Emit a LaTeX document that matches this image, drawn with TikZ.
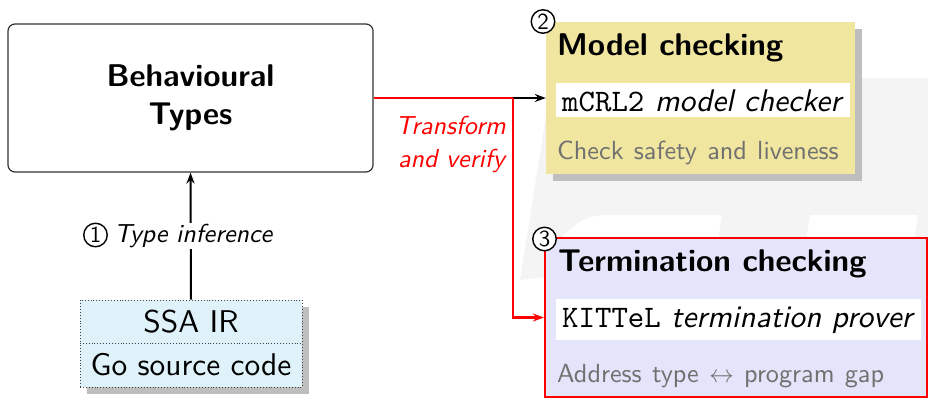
\documentclass[tikz,border=0pt]{standalone}
\usepackage{fontspec}
\setsansfont{lmsans10}[Extension=.otf, UprightFont=*-regular, BoldFont=*-bold,
  ItalicFont=*-oblique, BoldItalicFont=*-boldoblique]
\setmonofont{lmmono10}[Extension=.otf, UprightFont=*-regular, ItalicFont=*-italic]
\usetikzlibrary{arrows.meta,shadows}
\definecolor{mcyellow}{HTML}{F0E6A0}
\definecolor{tclav}{HTML}{E4E4FA}
\definecolor{ssacyan}{HTML}{DFF2FA}
\definecolor{shadowgray}{HTML}{BEBEBE}
\definecolor{notegray}{HTML}{707070}
\definecolor{wmgray}{HTML}{F4F4F4}
\newcommand\BigSz{\fontsize{31.4}{38}\selectfont}
\newcommand\MidSz{\fontsize{26}{33}\selectfont}
\newcommand\ToolSz{\fontsize{31.3}{36}\selectfont}
\newcommand\NumSz{\fontsize{23}{23}\selectfont}
\newcommand\NoteFont{\sffamily\fontsize{26.2}{33}\selectfont\spaceskip=10.3pt\relax}
\tikzset{
  bbox/.style={draw=black!80, line width=1.2pt, rounded corners=7pt, fill=white,
    align=center, font=\sffamily\bfseries\BigSz},
  mcbox/.style={fill=mcyellow, inner sep=0pt,
    drop shadow={shadow xshift=7pt, shadow yshift=-7pt, fill=shadowgray, opacity=1}},
  tcbox/.style={fill=tclav, draw=red, line width=2.2pt, inner sep=0pt},
  ssabox/.style={draw=black!75, dotted, line width=0.9pt, fill=ssacyan, inner sep=0pt,
    font=\sffamily\BigSz,
    drop shadow={shadow xshift=7pt, shadow yshift=-7pt, fill=shadowgray, opacity=1}},
  title/.style={anchor=base west, inner sep=0pt, font=\sffamily\bfseries\BigSz},
  toolbox/.style={fill=white, anchor=west, inner xsep=6pt, inner ysep=0pt,
    minimum height=34pt, text height=23pt, text depth=0pt, font=\sffamily\ToolSz},
  note/.style={anchor=base west, inner sep=0pt, text=notegray, font=\NoteFont},
  circnum/.style={circle, draw=black, fill=white, line width=1.4pt, inner sep=0pt,
    minimum size=23.5pt, font=\sffamily\NumSz},
  lbl/.style={font=\sffamily\itshape\MidSz},
  blkarrow/.style={line width=2pt, -{Stealth[length=11pt,width=8pt]}},
  redline/.style={draw=red, line width=2.2pt},
}
\begin{document}
\begin{tikzpicture}[x=1pt,y=-1pt]
\useasboundingbox (0,0) rectangle (928,400);
% faint background mark
\fill[wmgray] (552,78) -- (928,78) -- (928,240) -- (914,240) -- (918,215) -- (810,215)
  -- (806,240) -- (718,240) -- (722,215) -- (605,215)
  .. controls (578,215) and (556,238) .. (548,262) -- (545,277) -- (520,280) -- cycle;

% Behavioural types
\node[bbox, minimum width=365pt, minimum height=148pt] (bt) at (190.5,98) {Behavioural\\Types};

% SSA stack
\node[ssabox, minimum width=222pt, minimum height=43pt] (ssa) at (191,321.5) {SSA IR};
\node[ssabox, minimum width=222pt, minimum height=44pt] (go) at (191,365) {Go source code};

% Type inference
\draw[blkarrow] (ssa.north) -- (bt.south);
\node[lbl, fill=white, inner sep=1pt, anchor=west] (ti) at (113,236) {Type inference};
\node[circnum] (c1) at (95.5,235) {1};

% Model checking
\node[mcbox, minimum width=309pt, minimum height=152pt] (mc) at (700.5,98) {};
\node[title] (mct) at (557,55) {Model checking};
\node[toolbox] (mcw) at (556,100) {\texttt{mCRL2} \textit{model checker}};
\node[note] (mcn) at (557,159) {Check safety and liveness};
\node[circnum] (c2) at (543,21.5) {2};

% Termination checking
\node[tcbox, minimum width=382pt, minimum height=159pt] (tc) at (736,317.5) {};
\node[title] (tct) at (558,271) {Termination checking};
\node[toolbox, minimum height=41pt, text depth=7pt] (tcw) at (556,319.5) {\texttt{KITTeL} \textit{termination prover}};
\node[note] (tcn) at (557,382) {Address type $\leftrightarrow$ program gap};
\node[circnum] (c3) at (544.5,239) {3};

% Transform and verify
\coordinate (j) at (513,98);
\draw[redline] (bt.east) -- (j);
\draw[blkarrow, line width=1.6pt] (j) -- (mc.west);
\draw[redline, -{Stealth[length=11pt,width=8pt]}] (j) |- (tc.west);
\node[lbl, text=red, anchor=base east, inner sep=0pt] (tv1) at (506,134) {Transform};
\node[lbl, text=red, anchor=base east, inner sep=0pt] (tv2) at (505,167) {and verify};
\end{tikzpicture}
\end{document}
